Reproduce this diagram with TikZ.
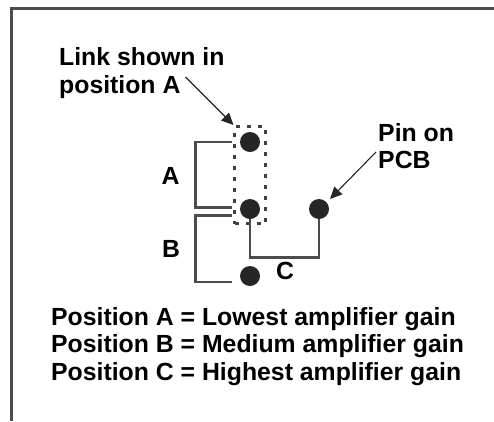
\documentclass[tikz,border=0pt]{standalone}
\usepackage{fontspec}
\setmainfont{Liberation Sans}
\usetikzlibrary{arrows.meta}
\begin{document}
\begin{tikzpicture}[x=1pt,y=-1pt,
  lbl/.style={font=\fontsize{24.8}{28}\selectfont\bfseries,anchor=base west,inner sep=0pt,text=black},
  pin/.style={circle,fill=black!85,inner sep=0pt,minimum size=20pt},
  wire/.style={line width=2.4pt,black!70},
  pointer/.style={line width=1.1pt,black!85,-{Triangle[length=12pt,width=11pt]}}]
\useasboundingbox (0,0) rectangle (494,421);
\fill[white] (0,0) rectangle (494,421);
\coordinate (fb) at (11.5,421);
\coordinate (ft) at (11.5,8.5);
\coordinate (fr) at (494,8.5);
\draw[line width=2.2pt,black!70] (fb) -- (ft) -- (fr);
\node[lbl] (link1) at (59,65) {Link shown in};
\node[lbl] (link2) at (59,93) {position A};
\node[lbl] (pin1) at (378,141) {Pin on};
\node[lbl] (pin2) at (378,168) {PCB};
\node[lbl] (la) at (161.5,184) {A};
\node[lbl] (lb) at (162,257) {B};
\node[lbl] (lc) at (276,279) {C};
\node[lbl] (p1) at (51,325) {Position A = Lowest amplifier gain};
\node[lbl] (p2) at (51,352) {Position B = Medium amplifier gain};
\node[lbl] (p3) at (51,380) {Position C = Highest amplifier gain};
\node[pin] (top) at (250,142) {};
\node[pin] (mid) at (250,209) {};
\node[pin] (bot) at (250,276) {};
\node[pin] (right) at (319,209) {};
\node[draw=black!75,line width=2.2pt,dash pattern=on 4pt off 7pt,minimum width=31pt,minimum height=97pt,inner sep=0pt] (link) at (250,175) {};
\coordinate (at) at (232,142);
\coordinate (am) at (232,207.5);
\coordinate (bm) at (232,215.5);
\coordinate (bb) at (232,282);
\draw[wire] (at) -| (195.5,207.5) -- (am);
\draw[wire] (bm) -| (195.5,282) -- (bb);
\draw[wire] (mid.south) |- (250.5,257.5) -| (right.south);
\coordinate (s1) at (185.5,77);
\coordinate (e1) at (233.5,125);
\draw[pointer] (s1) -- (e1);
\coordinate (s2) at (376,152);
\coordinate (e2) at (330,199);
\draw[pointer] (s2) -- (e2);
\end{tikzpicture}
\end{document}
